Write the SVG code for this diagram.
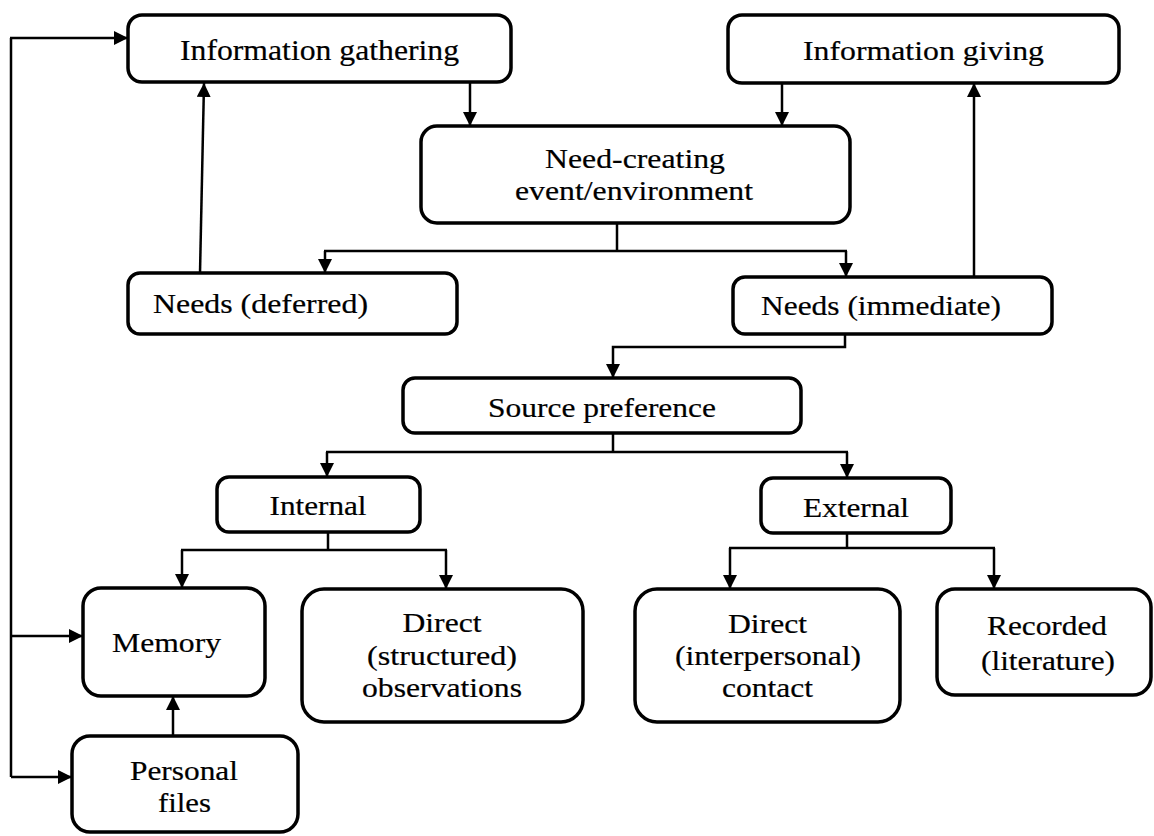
<svg xmlns="http://www.w3.org/2000/svg" width="1154" height="836" viewBox="0 0 1154 836">
<style>
.box{fill:#fff;stroke:#000;stroke-width:3.5}
.t{font-family:'Liberation Serif',serif;font-size:27px;fill:#000;stroke:#000;stroke-width:0.2}
.c{text-anchor:middle}
.ln{fill:none;stroke:#000;stroke-width:2.5}
.ar{fill:none;stroke:#000;stroke-width:2.5;marker-end:url(#ah)}
</style>
<defs>
<marker id="ah" markerUnits="userSpaceOnUse" markerWidth="14" markerHeight="14" refX="14" refY="7" orient="auto">
<path d="M0,0 L14,7 L0,14 z" fill="#000" stroke="none"/>
</marker>
</defs>
<rect width="1154" height="836" fill="#fff"/>
<g id="connectors">
<path class="ln" d="M11,777 L11,38"/>
<path class="ar" d="M10,38 L128,38"/>
<path class="ar" d="M11,636 L83,636"/>
<path class="ar" d="M11,777 L72,777"/>
<path class="ar" d="M470,82 L470,126"/>
<path class="ar" d="M782,83 L782,126"/>
<path class="ln" d="M617,223 L617,251 M324,251 L847,251"/>
<path class="ar" d="M325,251 L325,273"/>
<path class="ar" d="M846,251 L846,277"/>
<path class="ar" d="M200,273 L204,83"/>
<path class="ar" d="M974,277 L974,83"/>
<path class="ar" d="M845,334 L845,347 L613,347 L613,378"/>
<path class="ln" d="M613,433 L613,452 M326,452 L848,452"/>
<path class="ar" d="M327,452 L327,477"/>
<path class="ar" d="M847,452 L847,478"/>
<path class="ln" d="M328,532 L328,550 M181,550 L447,550"/>
<path class="ar" d="M182,550 L182,588"/>
<path class="ar" d="M446,550 L446,589"/>
<path class="ln" d="M847,533 L847,548 M729,548 L995,548"/>
<path class="ar" d="M730,548 L730,589"/>
<path class="ar" d="M994,548 L994,589"/>
<path class="ar" d="M173,736 L173,696"/>
</g>
<g id="gather">
<rect class="box" x="128" y="15" width="383" height="67" rx="14"/>
<text class="t c" x="319.5" y="60" style="font-size:29px" textLength="279" lengthAdjust="spacingAndGlyphs">Information gathering</text>
</g>
<g id="giving">
<rect class="box" x="728" y="15" width="391" height="68" rx="14"/>
<text class="t c" x="923.5" y="60" textLength="241" lengthAdjust="spacingAndGlyphs">Information giving</text>
</g>
<g id="needcreate">
<rect class="box" x="421" y="126" width="429" height="97" rx="16"/>
<text class="t c" x="635" y="168" textLength="180" lengthAdjust="spacingAndGlyphs">Need-creating</text>
<text class="t c" x="634" y="200" textLength="238" lengthAdjust="spacingAndGlyphs">event/environment</text>
</g>
<g id="deferred">
<rect class="box" x="128" y="273" width="329" height="61" rx="12"/>
<text class="t" x="153" y="313" textLength="215" lengthAdjust="spacingAndGlyphs">Needs (deferred)</text>
</g>
<g id="immediate">
<rect class="box" x="733" y="277" width="319" height="57" rx="12"/>
<text class="t" x="761" y="315" textLength="240" lengthAdjust="spacingAndGlyphs">Needs (immediate)</text>
</g>
<g id="source">
<rect class="box" x="403" y="378" width="398" height="55" rx="12"/>
<text class="t c" x="602" y="417" textLength="228" lengthAdjust="spacingAndGlyphs">Source preference</text>
</g>
<g id="internal">
<rect class="box" x="217" y="477" width="203" height="55" rx="12"/>
<text class="t c" x="318" y="515" textLength="97" lengthAdjust="spacingAndGlyphs">Internal</text>
</g>
<g id="external">
<rect class="box" x="761" y="478" width="190" height="55" rx="12"/>
<text class="t c" x="856" y="517" textLength="106" lengthAdjust="spacingAndGlyphs">External</text>
</g>
<g id="memory">
<rect class="box" x="83" y="588" width="182" height="108" rx="18"/>
<text class="t" x="112" y="652" textLength="109" lengthAdjust="spacingAndGlyphs">Memory</text>
</g>
<g id="structured">
<rect class="box" x="302" y="589" width="281" height="133" rx="22"/>
<text class="t c" x="442" y="632" textLength="79" lengthAdjust="spacingAndGlyphs">Direct</text>
<text class="t c" x="442" y="665" textLength="150" lengthAdjust="spacingAndGlyphs">(structured)</text>
<text class="t c" x="442" y="697" textLength="160" lengthAdjust="spacingAndGlyphs">observations</text>
</g>
<g id="interpersonal">
<rect class="box" x="635" y="589" width="265" height="133" rx="22"/>
<text class="t c" x="767.5" y="633" textLength="79" lengthAdjust="spacingAndGlyphs">Direct</text>
<text class="t c" x="768" y="665" textLength="186" lengthAdjust="spacingAndGlyphs">(interpersonal)</text>
<text class="t c" x="767.5" y="697" textLength="91" lengthAdjust="spacingAndGlyphs">contact</text>
</g>
<g id="recorded">
<rect class="box" x="937" y="589" width="214" height="106" rx="18"/>
<text class="t c" x="1047" y="635" textLength="120" lengthAdjust="spacingAndGlyphs">Recorded</text>
<text class="t c" x="1048" y="670" textLength="134" lengthAdjust="spacingAndGlyphs">(literature)</text>
</g>
<g id="personal">
<rect class="box" x="72" y="736" width="226" height="96" rx="18"/>
<text class="t c" x="184" y="780" textLength="108" lengthAdjust="spacingAndGlyphs">Personal</text>
<text class="t c" x="184.5" y="812" textLength="53" lengthAdjust="spacingAndGlyphs">files</text>
</g>
</svg>
